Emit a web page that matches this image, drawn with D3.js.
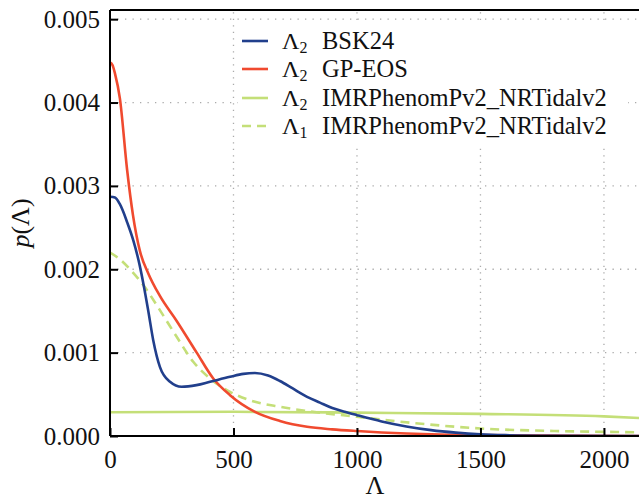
<!DOCTYPE html>
<html><head><meta charset="utf-8">
<script src="https://cdn.jsdelivr.net/npm/d3@7"></script>
<style>body{margin:0;background:#fff;} svg{display:block;} text{font-family:"Liberation Serif","Times New Roman","DejaVu Serif",serif;}</style>
</head><body>
<svg id="c" width="639" height="500"></svg>
<script>
// Data (Λ, p(Λ) in units of 1e-3)
const bskL = [0,20,40,70,94,120,135,155,175,202,243,290,350,405,486,540,587,640,688,740,798,850,900,950,1000,1100,1200,1300,1400,1500,1600,1800,2150];
const bskP = [2.87,2.86,2.78,2.56,2.35,2.05,1.83,1.50,1.15,0.83,0.65,0.59,0.61,0.65,0.71,0.745,0.755,0.725,0.66,0.57,0.47,0.40,0.335,0.29,0.25,0.175,0.115,0.07,0.04,0.02,0.01,0.003,0.0];
const gpL = [0,10,20,40,69,93,121,155,202,270,351,418,486,587,688,798,900,1000,1200,1500,2150];
const gpP = [4.48,4.45,4.35,4.05,3.20,2.65,2.22,1.95,1.68,1.38,1.00,0.69,0.49,0.29,0.18,0.11,0.08,0.06,0.03,0.01,0.0];
const imr2L = [0,500,1000,1500,2000,2150];
const imr2P = [0.285,0.29,0.28,0.265,0.235,0.215];
const imr1L = [0,40,81,135,202,270,337,405,486,587,688,798,1000,1215,1500,1800,2000,2150];
const imr1P = [2.20,2.12,2.00,1.81,1.51,1.19,0.89,0.69,0.53,0.41,0.35,0.30,0.23,0.16,0.09,0.06,0.05,0.045];
const xTicks = [0,500,1000,1500,2000];
const yTicks = [0.000,0.001,0.002,0.003,0.004,0.005];
const legendLabels = [["2","BSK24"],["2","GP-EOS"],["2","IMRPhenomPv2_NRTidalv2"],["1","IMRPhenomPv2_NRTidalv2"]];
const colors = ["#213f8c","#f04a2f","#c4df78","#c4df78"];
const dashes = [null,null,null,"9,6"];

const svg = d3.select("#c");
const L = 110, R = 641, T = 10, B = 436;
const x = d3.scaleLinear().domain([0,2150]).range([L,R]);
const y = d3.scaleLinear().domain([0,0.00511]).range([B,T]);

// grid
const g = svg.append("g");
g.selectAll("line.gx").data(xTicks.slice(1)).enter().append("line")
  .attr("x1",d=>x(d)).attr("x2",d=>x(d)).attr("y1",B).attr("y2",T)
  .attr("stroke","#aaa").attr("stroke-width",1.3).attr("stroke-dasharray","1.3,5.2");
g.selectAll("line.gy").data(yTicks.slice(1)).enter().append("line")
  .attr("x1",L).attr("x2",R).attr("y1",d=>y(d)).attr("y2",d=>y(d))
  .attr("stroke","#aaa").attr("stroke-width",1.3).attr("stroke-dasharray","1.3,6.2");

// curves
const series = [[bskL,bskP],[gpL,gpP],[imr2L,imr2P],[imr1L,imr1P]];
const line = d3.line().x(d=>x(d[0])).y(d=>y(d[1]*1e-3)).curve(d3.curveMonotoneX);
svg.append("clipPath").attr("id","cp").append("rect").attr("x",L).attr("y",T).attr("width",R-L).attr("height",B-T);
const order = [2,3,1,0];
order.forEach(i=>{
  const [ls,ps] = series[i];
  const pts = ls.map((l,k)=>[l,ps[k]]);
  svg.append("path").attr("d",line(pts)).attr("fill","none")
    .attr("stroke",colors[i]).attr("stroke-width",2.6)
    .attr("stroke-dasharray",dashes[i]).attr("clip-path","url(#cp)");
});

// legend
const lg = svg.append("g");
lg.append("rect").attr("x",238).attr("y",23).attr("width",390).attr("height",123).attr("fill","#fff");
const rowY = [41,69,98,126];
legendLabels.forEach((lab,i)=>{
  lg.append("line").attr("x1",242).attr("x2",268).attr("y1",rowY[i]).attr("y2",rowY[i])
    .attr("stroke",colors[i]).attr("stroke-width",2.6).attr("stroke-dasharray",dashes[i]);
  const t = lg.append("text").attr("x",282).attr("y",rowY[i]+8)
    .attr("font-size",24).attr("fill","#111");
  t.append("tspan").text("Λ");
  t.append("tspan").attr("font-size",16).attr("dy",4).text(lab[0]);
  t.append("tspan").attr("x",322).attr("dy",-4).attr("font-size",24.5).text(lab[1]);
});

// axes frame
svg.append("line").attr("x1",L).attr("x2",L).attr("y1",T).attr("y2",B).attr("stroke","#000").attr("stroke-width",2);
svg.append("line").attr("x1",L).attr("x2",R).attr("y1",B).attr("y2",B).attr("stroke","#000").attr("stroke-width",2);
svg.append("line").attr("x1",L).attr("x2",R).attr("y1",T).attr("y2",T).attr("stroke","#000").attr("stroke-width",2);

// ticks
const xa = d3.axisBottom(x).tickValues(xTicks).tickSizeInner(-8).tickSizeOuter(0).tickPadding(14).tickFormat(d3.format("d"));
const gx = svg.append("g").attr("transform",`translate(0,${B})`).call(xa);
gx.attr("font-family",null);
gx.select(".domain").remove();
gx.selectAll(".tick line").attr("stroke","#000").attr("stroke-width",2);
gx.selectAll("text").attr("font-size",25).attr("fill","#111");

const ya = d3.axisLeft(y).tickValues(yTicks).tickSizeInner(-8).tickSizeOuter(0).tickPadding(10).tickFormat(d3.format(".3f"));
const gy = svg.append("g").attr("transform",`translate(${L},0)`).call(ya);
gy.attr("font-family",null);
gy.select(".domain").remove();
gy.selectAll(".tick line").attr("stroke","#000").attr("stroke-width",2);
gy.selectAll("text").attr("font-size",25).attr("fill","#111");

// axis labels
svg.append("text").attr("x",375).attr("y",494).attr("text-anchor","middle")
  .attr("font-size",26).attr("fill","#111").text("Λ");
const yl = svg.append("text").attr("transform","translate(29,223) rotate(-90)").attr("text-anchor","middle")
  .attr("font-size",26).attr("fill","#111");
yl.append("tspan").attr("font-style","italic").text("p");
yl.append("tspan").text("(Λ)");
</script>
</body></html>
